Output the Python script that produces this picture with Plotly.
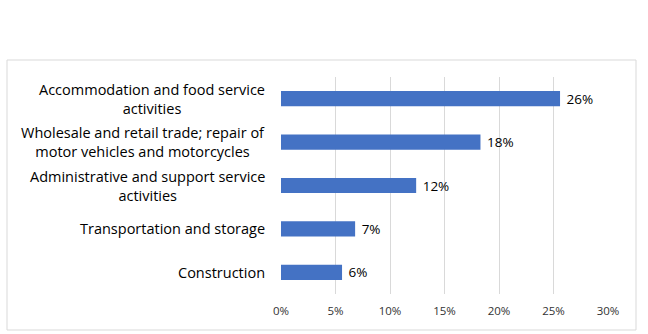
import plotly.graph_objects as go

categories = [
    "Accommodation and food service<br>activities",
    "Wholesale and retail trade; repair of<br>motor vehicles and motorcycles",
    "Administrative and support service<br>activities",
    "Transportation and storage",
    "Construction",
]
values = [0.256, 0.183, 0.124, 0.068, 0.056]
tick_vals = [0, 0.05, 0.10, 0.15, 0.20, 0.25, 0.30]
tick_text = ["0%", "5%", "10%", "15%", "20%", "25%", "30%"]

W, H = 648, 334
L, R, T, B = 281, 40, 77, 40
pw, ph = W - L - R, H - T - B
FONT = "Open Sans"

fig = go.Figure()
fig.add_trace(go.Bar(
    y=categories, x=values, orientation="h",
    marker=dict(color="#4472C4", line=dict(width=0)),
    text=[f" {round(v*100):.0f}%" for v in values],
    textposition="outside", cliponaxis=False, constraintext="none",
    textfont=dict(family=FONT, size=13.5, color="#000000"),
    hoverinfo="skip",
))

annotations = []
for c in categories:
    annotations.append(dict(
        x=-14 / pw, xref="paper", y=c, yref="y", xanchor="right", yanchor="middle",
        text=c, showarrow=False, align="center",
        font=dict(family=FONT, size=14.5, color="#000000"),
    ))

fig.update_layout(
    width=W, height=H,
    margin=dict(l=L, r=R, t=T, b=B),
    paper_bgcolor="white", plot_bgcolor="white",
    showlegend=False, bargap=0.65,
    uniformtext=dict(mode=False),
    annotations=annotations,
    shapes=[dict(type="rect", xref="paper", yref="paper",
                 x0=(7 - L) / pw, x1=(636 - L) / pw,
                 y0=(T + ph - 330) / ph, y1=(T + ph - 60) / ph,
                 line=dict(color="#d9d9d9", width=1), fillcolor="rgba(0,0,0,0)",
                 layer="below")],
    xaxis=dict(range=[0, 0.30], tickvals=tick_vals, ticktext=tick_text,
               showgrid=True, gridcolor="#d9d9d9", gridwidth=1,
               zeroline=False, showline=False, ticks="",
               tickfont=dict(family=FONT, size=11.5, color="#333333"),
               ticklabelstandoff=8, fixedrange=True),
    yaxis=dict(autorange="reversed", showticklabels=False, showgrid=False,
               zeroline=False, showline=False, ticks="", fixedrange=True),
)

fig.write_html("out.html")
